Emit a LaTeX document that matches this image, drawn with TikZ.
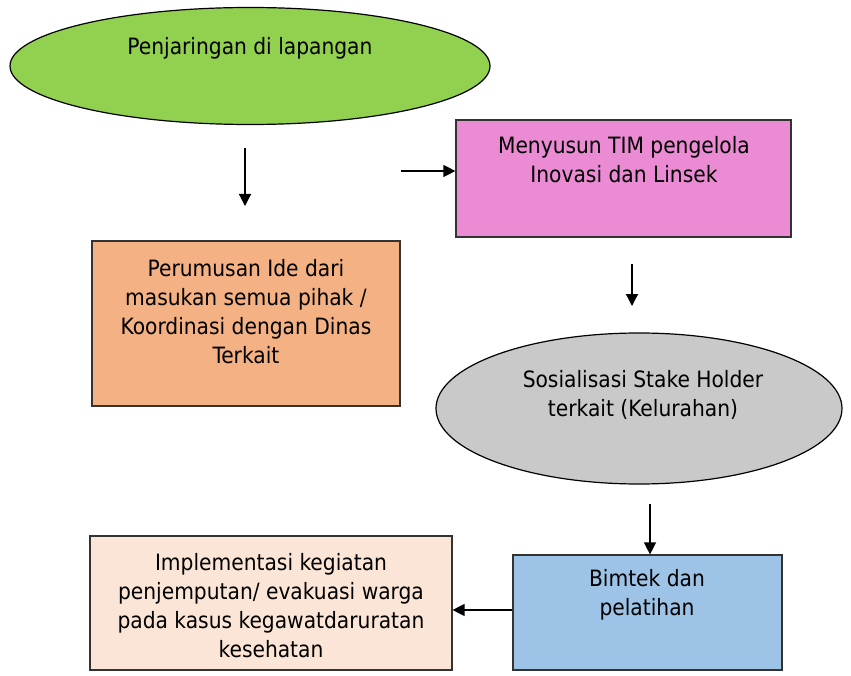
\documentclass[tikz,border=0pt]{standalone}
\usepackage{fontspec}
\setmainfont{DejaVu Sans Condensed}
\usepackage{tikz}
\usetikzlibrary{shapes.geometric,arrows.meta}
\definecolor{grun}{HTML}{92D050}
\definecolor{rosa}{HTML}{EA8BD3}
\definecolor{jingga}{HTML}{F4B183}
\definecolor{abu}{HTML}{C9C9C9}
\definecolor{biru}{HTML}{9DC3E6}
\definecolor{krem}{HTML}{FBE5D6}
\tikzstyle{oval}=[ellipse,draw=black,line width=1.2pt,inner sep=0pt]
\tikzstyle{kotak}=[rectangle,draw=black!80,line width=1.2pt,inner sep=0pt]
\tikzstyle{teks}=[align=center,inner sep=0pt,font=\fontsize{22.5}{29}\selectfont]
\tikzstyle{panah}=[-{Triangle[length=12pt,width=12pt]},line width=1.3pt]

\begin{document}
\begin{tikzpicture}[x=1pt,y=-1pt]
    \useasboundingbox (0,0) rectangle (851,676);
    % bentuk
    \node[oval,fill=grun,minimum width=480pt,minimum height=117pt] (jaring) at (250,66) {};
    \node[kotak,fill=rosa,minimum width=335pt,minimum height=117pt] (tim) at (623.5,178.5) {};
    \node[kotak,fill=jingga,minimum width=308pt,minimum height=165pt] (ide) at (246,323.5) {};
    \node[oval,fill=abu,minimum width=406pt,minimum height=151pt] (sosial) at (639,408.5) {};
    \node[kotak,fill=biru,minimum width=269pt,minimum height=115pt] (bimtek) at (647.5,612.5) {};
    \node[kotak,fill=krem,minimum width=362pt,minimum height=134pt] (impl) at (271,603) {};
    % teks
    \node[teks] (tjaring) at (250,48) {Penjaringan di lapangan};
    \node[teks] (ttim) at (624,160) {Menyusun TIM pengelola\\Inovasi dan Linsek};
    \node[teks] (tide) at (246,312) {Perumusan Ide dari\\masukan semua pihak /\\Koordinasi dengan Dinas\\Terkait};
    \node[teks] (tsosial) at (643,395) {Sosialisasi Stake Holder\\terkait (Kelurahan)};
    \node[teks] (tbimtek) at (647,595) {Bimtek dan\\pelatihan};
    \node[teks] (timpl) at (271,606) {Implementasi kegiatan\\penjemputan/ evakuasi warga\\pada kasus kegawatdaruratan\\kesehatan};
    % panah
    \coordinate (a1) at (245,148);
    \coordinate (b1) at (245,206);
    \coordinate (a2) at (401,171);
    \coordinate (a3) at (632,264);
    \coordinate (b3) at (632,306);
    \coordinate (a4) at (650,504);
    \draw[panah] (a1) -- (b1);
    \draw[panah] (a2) -- (tim.west |- a2);
    \draw[panah] (a3) -- (b3);
    \draw[panah] (a4) -- (bimtek.north -| a4);
    \draw[panah] (bimtek.west |- 0,610) -- (impl.east |- 0,610);
\end{tikzpicture}
\end{document}
